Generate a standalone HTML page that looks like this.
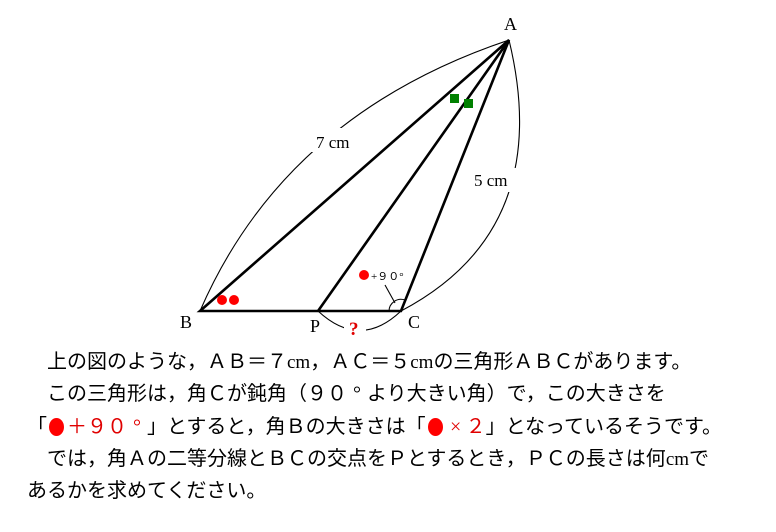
<!DOCTYPE html>
<html><head><meta charset="utf-8"><style>
body{margin:0;background:#fff;width:776px;height:532px;overflow:hidden;position:relative}
.t{position:absolute;font-family:"Liberation Serif","Noto Sans CJK JP",serif;font-size:20px;white-space:nowrap;color:#000;line-height:1}
.r{color:#e00000}
.cm{font-family:"Liberation Serif",serif;font-size:19px}
.w{display:inline-block;width:20px;text-align:center}
.dot{display:inline-block;width:20px;height:20px;position:relative;vertical-align:top}
.dot::after{content:"";position:absolute;left:2px;top:1px;width:15px;height:18px;border-radius:50%;background:#f00}
</style></head><body>
<svg width="776" height="532" style="position:absolute;left:0;top:0" font-family="Liberation Serif, serif">
<g fill="none" stroke="#000">
<path d="M200,311 Q285,115 509,40" stroke-width="1.1"/>
<path d="M509,40 Q555,230 401,311" stroke-width="1.1"/>
<path d="M318,311 Q360,350 401,311" stroke-width="1.1"/>
<path d="M200,311 L509,40 L401,311 Z M318,311 L509,40" stroke-width="2.6" stroke-linejoin="miter"/>
<path d="M389,311 A12,12 0 0 1 405,300" stroke-width="1.1"/>
<path d="M385,285 L395,303" stroke-width="1.1"/>
</g>
<rect x="310" y="128" width="52" height="24" fill="#fff"/>
<rect x="472" y="168" width="50" height="24" fill="#fff"/>
<rect x="344" y="318" width="22" height="20" fill="#fff"/>
<text x="316" y="148" font-size="17">7 cm</text>
<text x="474" y="186" font-size="17">5 cm</text>
<text x="504" y="30" font-size="18">A</text>
<text x="180" y="328" font-size="18">B</text>
<text x="310" y="332" font-size="18">P</text>
<text x="408" y="328" font-size="18">C</text>
<text x="349" y="335" font-size="19" fill="#e00000" font-weight="bold">?</text>
<rect x="450" y="94" width="9" height="9" fill="#008000"/>
<rect x="464" y="99" width="9" height="9" fill="#008000"/>
<circle cx="222" cy="300" r="5" fill="#f00"/>
<circle cx="234" cy="300" r="5" fill="#f00"/>
<circle cx="364" cy="275" r="5" fill="#f00"/>
<text x="371" y="280" font-size="11">+９０°</text>
</svg>
<div class="t" style="left:47px;top:352px">上の図のような，ＡＢ＝７<span class="cm">cm</span>，ＡＣ＝５<span class="cm">cm</span>の三角形ＡＢＣがあります。</div>
<div class="t" style="left:47px;top:384px">この三角形は，角Ｃが鈍角（９０<span class="w">°</span>より大きい角）で，この大きさを</div>
<div class="t" style="left:27px;top:417px">「<span class="r"><span class="dot"></span>＋９０<span class="w">°</span></span>」とすると，角Ｂの大きさは「<span class="r"><span class="dot"></span><span class="w">×</span>２</span>」となっているそうです。</div>
<div class="t" style="left:47px;top:449px">では，角Ａの二等分線とＢＣの交点をＰとするとき，ＰＣの長さは何<span class="cm">cm</span>で</div>
<div class="t" style="left:27px;top:481px">あるかを求めてください。</div>
</body></html>
